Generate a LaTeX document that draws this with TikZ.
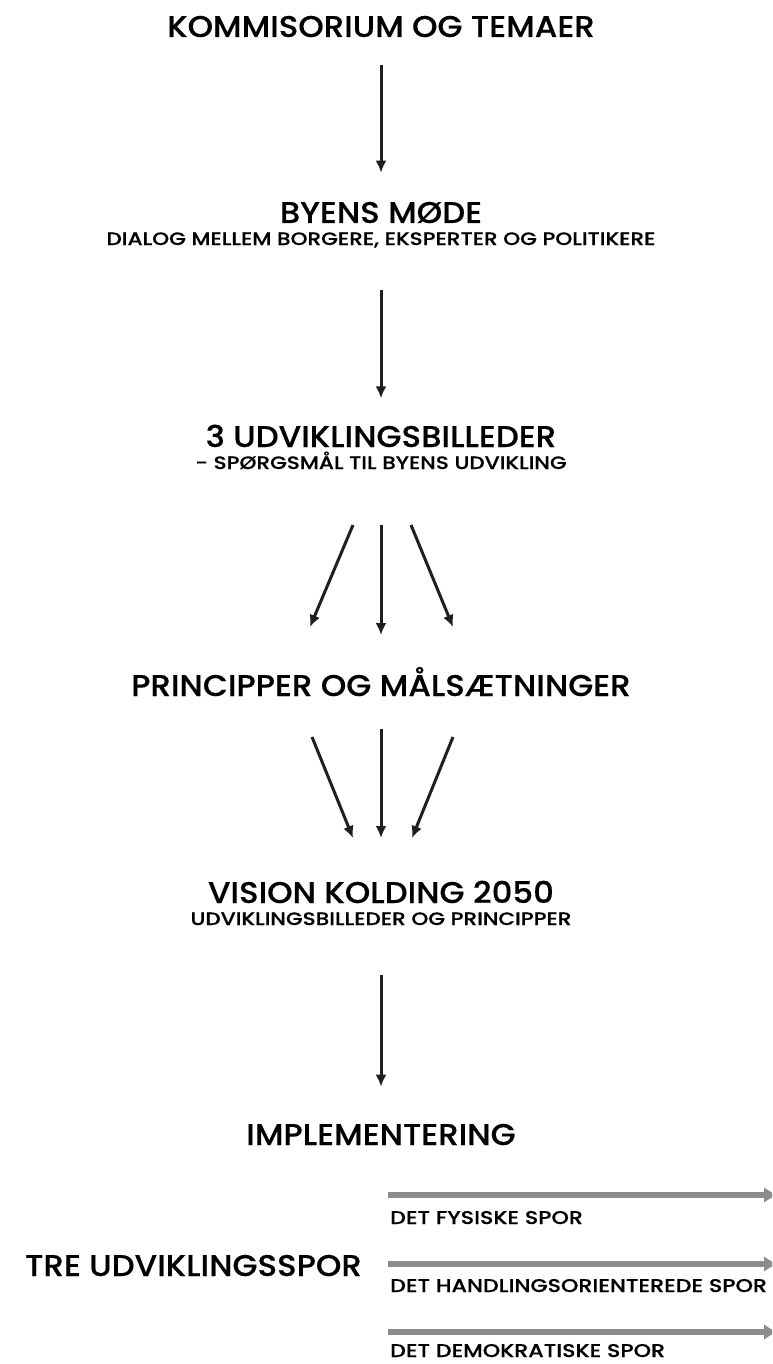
\documentclass[tikz,border=0pt]{standalone}
\usepackage{fontspec}
\setmainfont{Poppins}[UprightFont=* Medium]
\newfontfamily\titelfont{Poppins}[UprightFont=* Medium,FakeStretch=1.08,FakeBold=0.3]
\newfontfamily\smalfont{Poppins}[UprightFont=* Medium,FakeStretch=1.2,FakeBold=0.4]
\usetikzlibrary{positioning,calc,arrows.meta}

\begin{document}
\begin{tikzpicture}
  [x=1pt,y=-1pt,>={Latex[length=12pt,width=11pt]},
   titel/.style={font=\titelfont\fontsize{30}{34}\selectfont,inner sep=0pt,anchor=base},
   under/.style={font=\smalfont\fontsize{18}{21}\selectfont,inner sep=0pt,anchor=base},
   sporlabel/.style={font=\smalfont\fontsize{18.5}{21}\selectfont,inner sep=0pt,anchor=base west},
   pil/.style={->,line width=3pt,black!88},
   sporpil/.style={-{Latex[length=14pt,width=16pt]},line width=5.5pt,black!45}]

  \useasboundingbox (0,0) rectangle (772,1364);
  \clip (0,0) rectangle (772,1364);

  % trin fra kommisorium til vision
  \node[titel] (komm) at (381,37) {KOMMISORIUM OG TEMAER};
  \node[titel] (byens) at (381,223) {BYENS MØDE};
  \node[under] (byenssub) at (381,245) {DIALOG MELLEM BORGERE, EKSPERTER OG POLITIKERE};
  \node[titel] (udv) at (381,447) {3 UDVIKLINGSBILLEDER};
  \node[under] (udvsub) at (381,469) {- SPØRGSMÅL TIL BYENS UDVIKLING};
  \node[titel] (princ) at (381,696) {PRINCIPPER OG MÅLSÆTNINGER};
  \node[titel] (vision) at (381,903) {VISION KOLDING 2050};
  \node[under] (visionsub) at (381,925) {UDVIKLINGSBILLEDER OG PRINCIPPER};
  \node[titel] (impl) at (381,1145) {IMPLEMENTERING};

  \draw[pil,shorten <=28pt,shorten >=29pt] (komm.south) -- (byens.north);
  \draw[pil,shorten <=42pt,shorten >=26pt] (byenssub.south) -- (udv.north);
  \draw[pil,shorten <=50pt,shorten >=37pt] (visionsub.south) -- (impl.north);

  % tre pile ud og tre pile ind
  \coordinate (ud1) at (353,525);
  \coordinate (ud2) at (381,525);
  \coordinate (ud3) at (411,525);
  \coordinate (ind1) at (312,737);
  \coordinate (ind2) at (381,729);
  \coordinate (ind3) at (453,737);
  \draw[pil] (ud1) -- (310,627);
  \draw[pil] (ud2) -- (381,635);
  \draw[pil] (ud3) -- (453,627);
  \draw[pil] (ind1) -- (353,838);
  \draw[pil] (ind2) -- (381,838);
  \draw[pil] (ind3) -- (412,838);

  % udviklingsspor
  \node[titel,anchor=base west] (tre) at (25,1276) {TRE UDVIKLINGSSPOR};
  \node[sporlabel] (fys) at (390,1224) {DET FYSISKE SPOR};
  \node[sporlabel] (hand) at (390,1292) {DET HANDLINGSORIENTEREDE SPOR};
  \node[sporlabel] (demo) at (390,1357) {DET DEMOKRATISKE SPOR};
  \coordinate (fysa) at (388,1195);
  \coordinate (fysb) at (778,1195);
  \coordinate (handa) at (388,1264);
  \coordinate (handb) at (778,1264);
  \coordinate (demoa) at (388,1332);
  \coordinate (demob) at (778,1332);
  \draw[sporpil] (fysa) -- (fysb);
  \draw[sporpil] (handa) -- (handb);
  \draw[sporpil] (demoa) -- (demob);
\end{tikzpicture}
\end{document}
